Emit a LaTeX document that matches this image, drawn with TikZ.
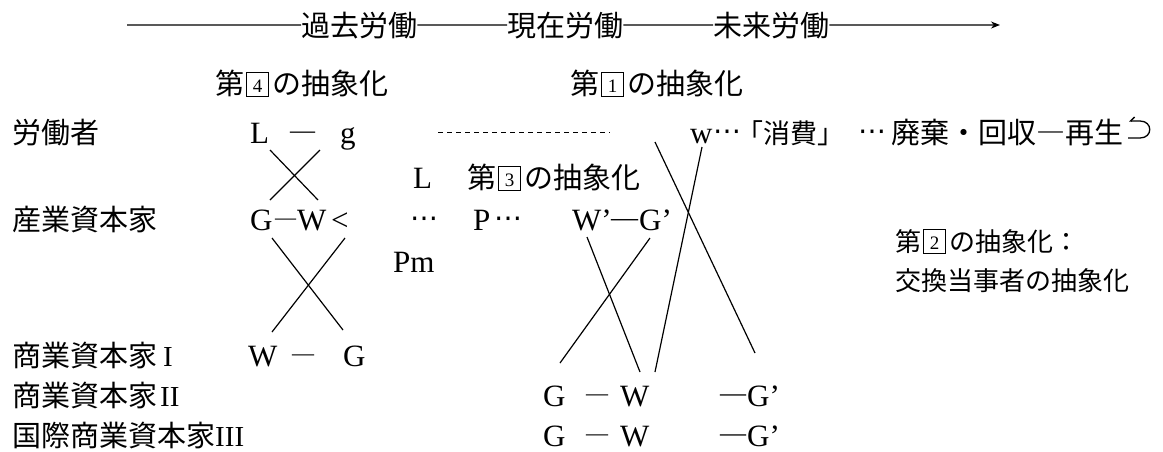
\documentclass[tikz,border=0pt]{standalone}
\usepackage{fontspec}
\setmainfont{Liberation Serif}
\newfontfamily\jp{Noto Sans CJK JP}
\newfontfamily\djv{DejaVu Sans}
\usetikzlibrary{arrows.meta}
\newcommand\bnum[1]{{\setlength{\fboxsep}{0pt}\setlength{\fboxrule}{1pt}\hspace{2pt}\raisebox{-2pt}{\framebox[23pt]{\rule{0pt}{23pt}\raisebox{4pt}{\fontsize{19}{19}\selectfont\rmfamily #1}}}\hspace{3pt}}}
\newcommand\emd[2]{{\fontsize{#1}{#1}\selectfont\raisebox{#2}{—}}}
\begin{document}
\begin{tikzpicture}[x=1pt,y=-1pt,
  jt/.style={inner sep=0pt, anchor=base west, font=\jp\fontsize{29}{29}\selectfont},
  js/.style={inner sep=0pt, anchor=base west, font=\jp\fontsize{26}{26}\selectfont},
  lt/.style={inner sep=0pt, anchor=base west, font=\fontsize{31}{31}\selectfont},
  dsh/.style={inner sep=0pt, anchor=base west},
  dts/.style={inner sep=0pt, anchor=base west, font=\djv\fontsize{28}{28}\selectfont},
  ln/.style={line width=1.2pt},
]
\useasboundingbox (0,0) rectangle (1163,451);
% top time axis
\node[jt] (past) at (301,36) {過去労働};
\node[jt] (now) at (507,36) {現在労働};
\node[jt] (fut) at (713,36) {未来労働};
\coordinate (tstart) at (127,25);
\coordinate (tend) at (1000,25);
\draw[ln] (tstart) -- (past.west);
\draw[ln] (past.east) -- (now.west);
\draw[ln] (now.east) -- (fut.west);
\draw[ln,-{Stealth[length=9pt,width=7pt]}] (fut.east) -- (tend);
% abstraction labels
\node[jt] (abs4) at (215,94) {第\bnum{4}の抽象化};
\node[jt] (abs1) at (570,94) {第\bnum{1}の抽象化};
% row 1
\node[jt] (r1) at (12,143) {労働者};
\node[lt] (L1) at (250,143) {L};
\node[dsh] (d1) at (290,143) {\emd{25}{4.5pt}};
\node[lt] (g1) at (340,143) {g};
\coordinate (ds1) at (438,132);
\coordinate (ds2) at (610,132);
\draw[line width=1pt,dash pattern=on 5pt off 4pt] (ds1) -- (ds2);
\node[lt] (w) at (690,143) {w};
\node[dts] (wd1) at (713,140) {⋯};
\node[dsh,font=\jp\fontsize{27}{27}\selectfont] (cons) at (736,143) {「消費」};
\node[dts] (wd2) at (858,140) {⋯};
\node[jt] (recy) at (891,143) {廃棄・回収―再生};
\draw[line width=1.3pt,{Straight Barb[right,length=4pt,width=8pt]}-] (1129,121) -- (1140,121) .. controls (1153,121) and (1153,138) .. (1140,138) -- (1128,138);
% row 2
\node[lt] (L2) at (413,188) {L};
\node[jt] (abs3) at (467,188) {第\bnum{3}の抽象化};
% row 3
\node[jt] (r2) at (12,230) {産業資本家};
\node[lt] (G1) at (250,230) {G};
\node[dsh] (d2) at (275,230) {\emd{21}{5.5pt}};
\node[lt] (W1) at (297,230) {W};
\node[lt] (lt1) at (331,230) {<};
\node[dts] (dt1) at (410,227) {⋯};
\node[lt] (P) at (473,230) {P};
\node[dts] (dt2) at (494,227) {⋯};
\node[lt] (Wp) at (572,230) {W’};
\node[dsh] (d3) at (611,230) {\emd{27}{4pt}};
\node[lt] (Gp) at (639,230) {G’};
\node[lt] (Pm) at (393,272) {Pm};
\node[js] (abs2) at (895,251) {第\bnum{2}の抽象化：};
\node[js] (abs2b) at (895,290) {交換当事者の抽象化};
% row 4
\node[jt] (r3) at (12,366) {商業資本家\hspace{6pt}{\rmfamily I}};
\node[lt] (W4) at (248,366) {W};
\node[dsh] (d4) at (292,366) {\emd{22}{5.2pt}};
\node[lt] (G4) at (343,366) {G};
% row 5
\node[jt] (r4) at (12,406) {商業資本家\hspace{3pt}{\rmfamily II}};
\node[lt] (G5) at (543,406) {G};
\node[dsh] (d5) at (586,406) {\emd{22}{5.2pt}};
\node[lt] (W5) at (620,406) {W};
\node[dsh] (d5b) at (720,406) {\emd{26}{4.3pt}};
\node[lt] (G5p) at (747,406) {G’};
% row 6
\node[jt] (r5) at (12,446) {国際商業資本家{\rmfamily III}};
\node[lt] (G6) at (543,446) {G};
\node[dsh] (d6) at (586,446) {\emd{22}{5.2pt}};
\node[lt] (W6) at (620,446) {W};
\node[dsh] (d6b) at (720,446) {\emd{26}{4.3pt}};
\node[lt] (G6p) at (747,446) {G’};
% crossing connectors
\coordinate (xa1) at (270,150); \coordinate (xa2) at (318,200);
\coordinate (xb1) at (320,150); \coordinate (xb2) at (270,200);
\draw[ln] (xa1) -- (xa2);
\draw[ln] (xb1) -- (xb2);
\coordinate (ya1) at (272,238); \coordinate (ya2) at (343,330);
\coordinate (yb1) at (345,238); \coordinate (yb2) at (272,332);
\draw[ln] (ya1) -- (ya2);
\draw[ln] (yb1) -- (yb2);
\coordinate (za1) at (655,142); \coordinate (za2) at (755,353);
\coordinate (zb1) at (702,147); \coordinate (zb2) at (655,372);
\coordinate (zc1) at (587,237); \coordinate (zc2) at (640,372);
\coordinate (zd1) at (650,238); \coordinate (zd2) at (560,363);
\draw[ln] (za1) -- (za2);
\draw[ln] (zb1) -- (zb2);
\draw[ln] (zc1) -- (zc2);
\draw[ln] (zd1) -- (zd2);
\end{tikzpicture}
\end{document}
